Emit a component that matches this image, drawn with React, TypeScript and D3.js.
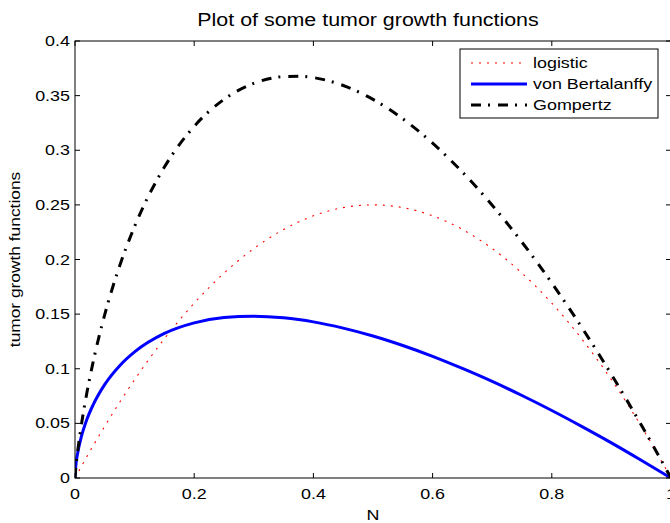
import React from "react";
import * as d3 from "d3";

const nValues = [0, 0.001, 0.005, 0.01, 0.02, 0.03, 0.05, 0.075, 0.1, 0.15, 0.2, 0.25, 0.3, 0.35, 0.375, 0.4, 0.45, 0.5, 0.55, 0.6, 0.65, 0.7, 0.75, 0.8, 0.85, 0.9, 0.95, 1];
const logistic = [0, 0.001, 0.005, 0.0099, 0.0196, 0.0291, 0.0475, 0.0694, 0.09, 0.1275, 0.16, 0.1875, 0.21, 0.2275, 0.2344, 0.24, 0.2475, 0.25, 0.2475, 0.24, 0.2275, 0.21, 0.1875, 0.16, 0.1275, 0.09, 0.0475, 0];
const vonBertalanffy = [0, 0.009, 0.0242, 0.0364, 0.0537, 0.0665, 0.0857, 0.1028, 0.1154, 0.1323, 0.142, 0.1469, 0.1481, 0.1466, 0.145, 0.1429, 0.1372, 0.13, 0.1213, 0.1114, 0.1003, 0.0884, 0.0755, 0.0618, 0.0473, 0.0322, 0.0163, 0];
const gompertz = [0, 0.0069, 0.0265, 0.0461, 0.0782, 0.1052, 0.1498, 0.1943, 0.2303, 0.2846, 0.3219, 0.3466, 0.3612, 0.3674, 0.3678, 0.3665, 0.3593, 0.3466, 0.3288, 0.3065, 0.28, 0.2497, 0.2158, 0.1785, 0.1381, 0.0948, 0.0487, 0];

const xTicks = [0, 0.2, 0.4, 0.6, 0.8, 1];
const yTicks = [0, 0.05, 0.1, 0.15, 0.2, 0.25, 0.3, 0.35, 0.4];
const seriesNames = ["logistic", "von Bertalanffy", "Gompertz"];

const W = 670, H = 523;
const L = 75, R = 671, T = 41, B = 478;
const SX = 1.28;
const FONT = "'Liberation Sans', Arial, Helvetica, sans-serif";

export default function App() {
  const x = d3.scaleLinear().domain([0, 1]).range([L, R]);
  const y = d3.scaleLinear().domain([0, 0.4]).range([B, T]);
  const mk = (vals: number[]) =>
    d3.line<number>().x((_, i) => x(nValues[i])).y((v) => y(v)).curve(d3.curveMonotoneX)(vals) || "";

  const styles = [
    { color: "#ff0000", width: 1.1, dash: "2,6" },
    { color: "#0000ff", width: 3, dash: undefined as string | undefined },
    { color: "#000000", width: 3, dash: "10,7,2,8" },
  ];
  const data = [logistic, vonBertalanffy, gompertz];
  const fmt = (v: number) => String(+v.toFixed(2));
  const tick = 5;
  const legendRows = [63, 84, 105];

  return (
    <svg width={W} height={H} style={{ position: "absolute", left: 0, top: 0, background: "#fff" }} fontFamily={FONT}>
      <rect x={0} y={0} width={W} height={H} fill="#fff" />
      <defs>
        <clipPath id="plotclip">
          <rect x={L} y={T} width={R - L} height={B - T} />
        </clipPath>
      </defs>
      {/* curves */}
      <g clipPath="url(#plotclip)">
        {data.map((d, i) => (
          <path key={i} d={mk(d)} fill="none" stroke={styles[i].color} strokeWidth={styles[i].width}
            strokeDasharray={styles[i].dash} strokeLinejoin="round" />
        ))}
      </g>
      {/* axes box */}
      <rect x={L} y={T} width={R - L} height={B - T} fill="none" stroke="#000" strokeWidth={1} />
      {/* x ticks */}
      {xTicks.map((t) => (
        <g key={"x" + t}>
          <line x1={x(t)} x2={x(t)} y1={B} y2={B - tick} stroke="#000" />
          <line x1={x(t)} x2={x(t)} y1={T} y2={T + tick} stroke="#000" />
          <text transform={`translate(${x(t)},499) scale(${SX},1)`} textAnchor="middle" fontSize={14} fill="#000">{fmt(t)}</text>
        </g>
      ))}
      {/* y ticks */}
      {yTicks.map((t) => (
        <g key={"y" + t}>
          <line x1={L} x2={L + tick} y1={y(t)} y2={y(t)} stroke="#000" />
          <line x1={R} x2={R - tick} y1={y(t)} y2={y(t)} stroke="#000" />
          <text transform={`translate(70,${y(t) + 5}) scale(${SX},1)`} textAnchor="end" fontSize={14} fill="#000">{fmt(t)}</text>
        </g>
      ))}
      {/* title */}
      <text transform={`translate(368,26) scale(1.19,1)`} textAnchor="middle" fontSize={18} fill="#000">Plot of some tumor growth functions</text>
      {/* axis labels */}
      <text transform={`translate(373,520) scale(${SX},1)`} textAnchor="middle" fontSize={14} fill="#000">N</text>
      <text transform={`translate(20,${(T + B) / 2}) rotate(-90) scale(1.24,1)`} textAnchor="middle" fontSize={14} fill="#000">tumor growth functions</text>
      {/* legend */}
      <rect x={460} y={49} width={198} height={69} fill="#fff" stroke="#000" strokeWidth={1} />
      {seriesNames.map((name, i) => (
        <g key={name}>
          <line x1={471} x2={527} y1={legendRows[i]} y2={legendRows[i]} stroke={styles[i].color}
            strokeWidth={styles[i].width} strokeDasharray={styles[i].dash} />
          <text transform={`translate(533,${legendRows[i] + 5}) scale(${SX},1)`} fontSize={14} fill="#000">{name}</text>
        </g>
      ))}
    </svg>
  );
}
